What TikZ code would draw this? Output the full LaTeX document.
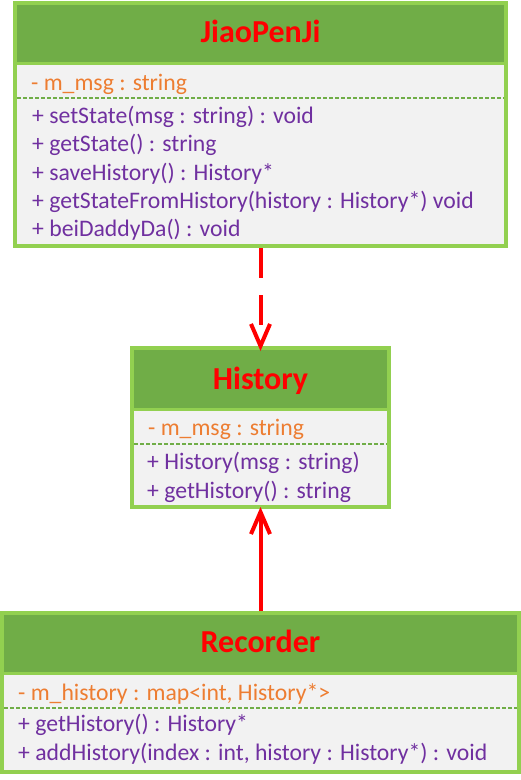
\documentclass[tikz,border=0pt]{standalone}
\usepackage{fontspec}
\setmainfont{Carlito}
\usetikzlibrary{arrows.meta}
\definecolor{headgreen}{HTML}{70AD47}
\definecolor{framegreen}{HTML}{92D050}
\definecolor{bodygray}{HTML}{F2F2F2}
\definecolor{attrorange}{HTML}{ED7D31}
\definecolor{methpurple}{HTML}{7030A0}
\begin{document}
\begin{tikzpicture}[x=1pt,y=-1pt,
    classbox/.style={draw=framegreen,fill=bodygray,line width=4pt,inner sep=0pt},
    classname/.style={text=red,font=\fontsize{32}{38}\selectfont\bfseries,anchor=base,inner sep=0pt},
    member/.style={anchor=base west,inner sep=0pt,font=\fontsize{23.7}{28}\selectfont},
    sepline/.style={headgreen,line width=2.2pt,dash pattern=on 4pt off 2pt},
    relation/.style={red,line width=4pt,-{Straight Barb[length=22pt,width=19pt]}}]
  \useasboundingbox (0,0) rectangle (521,780);
  % JiaoPenJi
  \node[classbox,minimum width=491pt,minimum height=243pt] (jiao) at (260.5,124.5) {};
  \fill[headgreen] (17,5) rectangle (504,62);
  \draw[framegreen,line width=3pt] (15,63.5) -- (506,63.5);
  \node[classname] (jiaoname) at (260.5,42.7) {JiaoPenJi};
  \node[member,text=attrorange] (jiaoattr) at (31,90) {- m\_msg : string};
  \draw[sepline] (17,98) -- (504,98);
  \foreach \y/\txt [count=\i] in {123.3/{+ setState(msg : string) : void},
      151.7/{+ getState() : string},
      180/{+ saveHistory() : History*},
      208.4/{+ getStateFromHistory(history : History*) void},
      236.7/{+ beiDaddyDa() : void}}
    \node[member,text=methpurple] (jiaometh\i) at (32,\y) {\txt};
  % History
  \node[classbox,minimum width=257pt,minimum height=159pt] (hist) at (260.5,427.5) {};
  \fill[headgreen] (134,350) rectangle (387,408);
  \draw[framegreen,line width=3pt] (132,409.5) -- (389,409.5);
  \node[classname] (histname) at (260.5,389) {History};
  \node[member,text=attrorange] (histattr) at (148,435) {- m\_msg : string};
  \draw[sepline] (134,444) -- (387,444);
  \foreach \y/\txt [count=\i] in {469.3/{+ History(msg : string)},
      498/{+ getHistory() : string}}
    \node[member,text=methpurple] (histmeth\i) at (147,\y) {\txt};
  % Recorder
  \node[classbox,minimum width=517pt,minimum height=159pt] (rec) at (260.5,692.5) {};
  \fill[headgreen] (4,615) rectangle (517,672);
  \draw[framegreen,line width=3pt] (2,673.5) -- (519,673.5);
  \node[classname] (recname) at (260.5,652.7) {Recorder};
  \node[member,text=attrorange] (recattr) at (18,700) {- m\_history : map<int, History*>};
  \draw[sepline] (4,708) -- (517,708);
  \foreach \y/\txt [count=\i] in {731.7/{+ getHistory() : History*},
      760.7/{+ addHistory(index : int, history : History*) : void}}
    \node[member,text=methpurple] (recmeth\i) at (18,\y) {\txt};
  % relations
  \draw[relation,dash pattern=on 30pt off 17pt] (jiao.south) -- ([yshift=-5pt]hist.north);
  \draw[relation] (rec.north) -- ([yshift=2pt]hist.south);
\end{tikzpicture}
\end{document}
